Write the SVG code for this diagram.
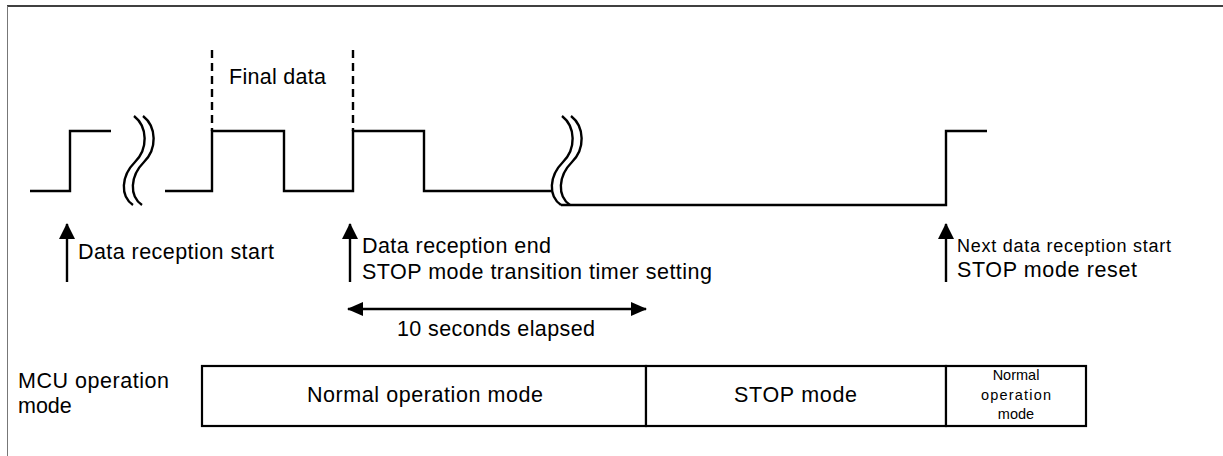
<svg xmlns="http://www.w3.org/2000/svg" width="1223" height="456" viewBox="0 0 1223 456">
<style>
  .t { font-family: "Liberation Sans", Arial, sans-serif; font-size: 21.5px; fill: #000; }
  .s { font-family: "Liberation Sans", Arial, sans-serif; font-size: 14.5px; fill: #000; }
  .sig { fill: none; stroke: #000; stroke-width: 2.4; }
  .brk { fill: none; stroke: #000; stroke-width: 2.4; }
  .dash { stroke: #000; stroke-width: 2.4; stroke-dasharray: 8 5; }
  .box { fill: #fff; stroke: #000; stroke-width: 2.2; }
  .arr { stroke: #000; stroke-width: 2.4; }
</style>
<defs>
  <marker id="ahu" viewBox="0 0 16 16" refX="15" refY="8" markerWidth="16" markerHeight="16" markerUnits="userSpaceOnUse" orient="auto-start-reverse">
    <path d="M0,0 L16,8 L0,16 z" fill="#000"/>
  </marker>
  <marker id="ahh" viewBox="0 0 16 14" refX="15" refY="7" markerWidth="16" markerHeight="14" markerUnits="userSpaceOnUse" orient="auto-start-reverse">
    <path d="M0,0 L16,7 L0,14 z" fill="#000"/>
  </marker>
</defs>
<rect width="1223" height="456" fill="#fff"/>
<g id="frame">
  <line x1="7" y1="6" x2="1223" y2="6" stroke="#000" stroke-width="1.5"/>
  <line x1="7.5" y1="6" x2="7.5" y2="456" stroke="#777" stroke-width="1"/>
</g>
<g id="signal">
  <polyline class="sig" points="30,191 70,191 70,131 111,131"/>
  <polyline class="sig" points="165,191 212,191 212,131 284,131 284,191 353,191 353,131 424,131 424,191 551,191"/>
  <polyline class="sig" points="561,205 946,205 946,131 987,131"/>
</g>
<g id="breaks">
  <path class="brk" d="M134,116 C148,127 148,149 135,162 C121,176 120,196 133,205"/>
  <path class="brk" d="M143,116 C157,127 157,149 144,162 C130,176 129,196 142,205"/>
  <path class="brk" d="M562,116 C576,127 576,149 563,162 C549,176 548,196 561,205"/>
  <path class="brk" d="M571,116 C585,127 585,149 572,162 C558,176 557,196 570,205"/>
</g>
<g id="final-data">
  <line class="dash" x1="212" y1="50" x2="212" y2="131"/>
  <line class="dash" x1="353" y1="50" x2="353" y2="131"/>
  <text class="t" x="229" y="84" textLength="97">Final data</text>
</g>
<g id="connectors">
  <line class="arr" x1="67" y1="282" x2="67" y2="224" marker-end="url(#ahu)"/>
  <line class="arr" x1="350" y1="282" x2="350" y2="224" marker-end="url(#ahu)"/>
  <line class="arr" x1="946" y1="282" x2="946" y2="224" marker-end="url(#ahu)"/>
  <line class="arr" x1="348" y1="309" x2="646" y2="309" marker-start="url(#ahh)" marker-end="url(#ahh)"/>
</g>
<g id="label-start">
  <text class="t" x="78" y="259" textLength="196">Data reception start</text>
</g>
<g id="label-end">
  <text class="t" x="362" y="253" textLength="189">Data reception end</text>
  <text class="t" x="362" y="279" textLength="350">STOP mode transition timer setting</text>
</g>
<g id="label-elapsed">
  <text class="t" x="397" y="336" textLength="198">10 seconds elapsed</text>
</g>
<g id="label-next">
  <text class="t" x="957" y="252" style="font-size:18px" textLength="214">Next data reception start</text>
  <text class="t" x="957" y="277" textLength="180">STOP mode reset</text>
</g>
<g id="mcu-label">
  <text class="t" x="18" y="388" textLength="151">MCU operation</text>
  <text class="t" x="18" y="413">mode</text>
</g>
<g id="mode-normal">
  <rect class="box" x="202" y="366" width="444" height="60"/>
  <text class="t" x="307" y="402" textLength="236">Normal operation mode</text>
</g>
<g id="mode-stop">
  <rect class="box" x="646" y="366" width="300" height="60"/>
  <text class="t" x="734" y="402" textLength="123">STOP mode</text>
</g>
<g id="mode-normal2">
  <rect class="box" x="946" y="366" width="140" height="60"/>
  <text class="s" x="1016" y="380" text-anchor="middle">Normal</text>
  <text class="s" x="1016" y="400" text-anchor="middle" textLength="70">operation</text>
  <text class="s" x="1016" y="419" text-anchor="middle">mode</text>
</g>
</svg>
